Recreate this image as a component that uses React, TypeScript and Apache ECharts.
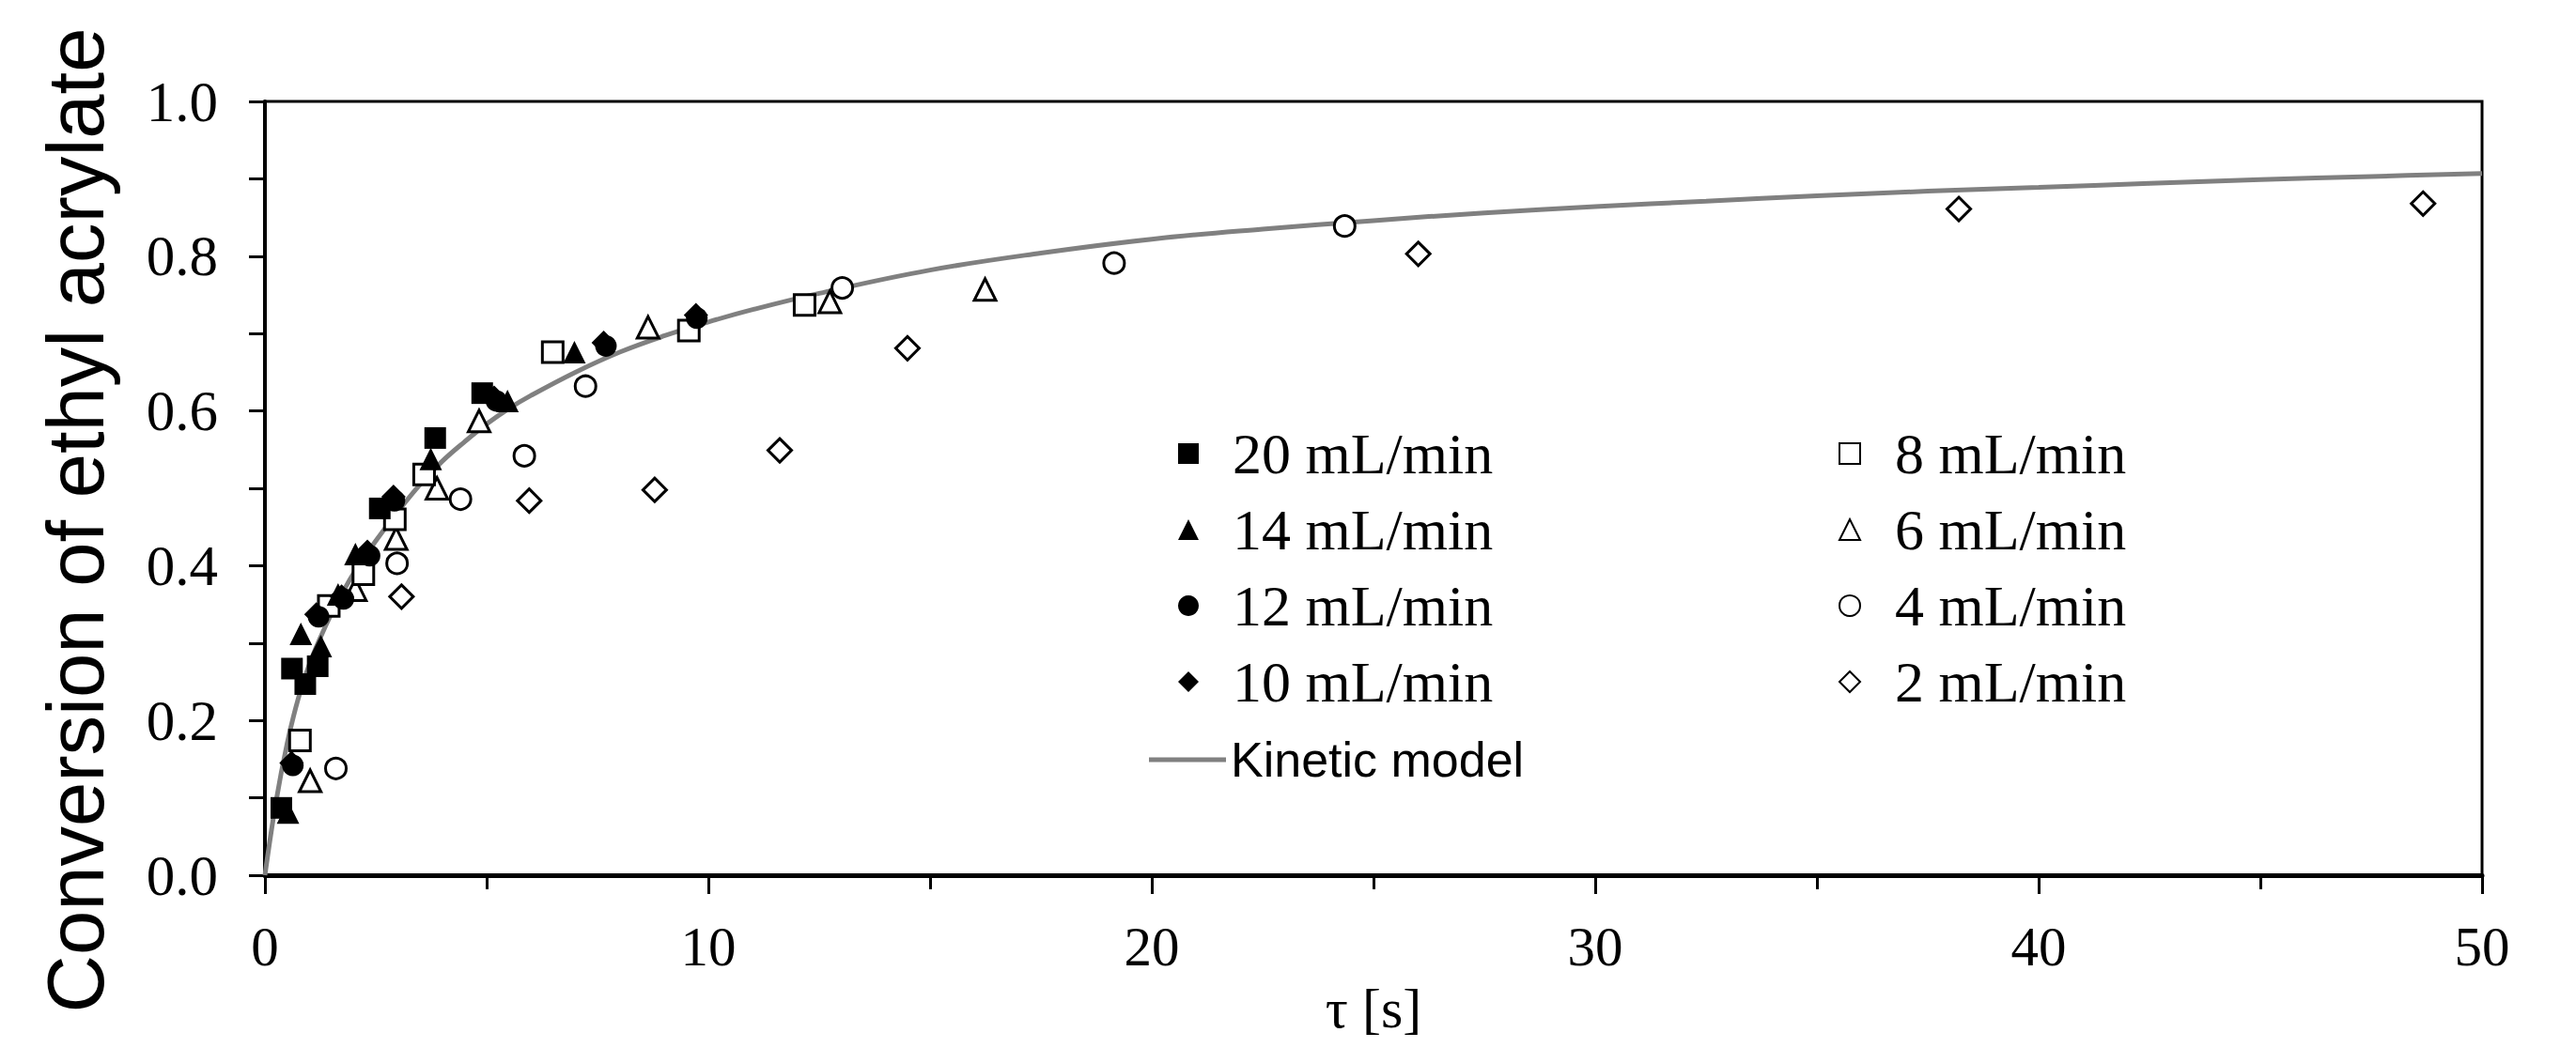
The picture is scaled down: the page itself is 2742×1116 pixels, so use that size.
import React, { useEffect, useRef } from "react";
import * as echarts from "echarts";

const W = 2742;
const H = 1116;

// residence time τ [s] and conversion for each flow rate
const tau20 = [0.37, 0.61, 0.91, 1.19, 2.59, 3.84, 4.9];
const conv20 = [0.087, 0.267, 0.247, 0.27, 0.474, 0.565, 0.623];

const tau14 = [0.52, 0.81, 1.26, 1.65, 2.04, 3.74, 5.47, 6.98];
const conv14 = [0.081, 0.312, 0.296, 0.363, 0.415, 0.538, 0.613, 0.676];

const tau12 = [0.63, 1.21, 1.77, 2.36, 2.92, 5.22, 7.69, 9.74];
const conv12 = [0.142, 0.334, 0.357, 0.413, 0.484, 0.613, 0.684, 0.72];

const tau10 = [0.6, 1.16, 1.73, 2.31, 2.9, 5.17, 7.64, 9.72];
const conv10 = [0.145, 0.337, 0.36, 0.418, 0.489, 0.617, 0.688, 0.724];

const tau8 = [0.79, 1.44, 2.22, 2.93, 3.59, 6.49, 9.56, 12.17];
const conv8 = [0.174, 0.348, 0.389, 0.46, 0.518, 0.676, 0.704, 0.737];

const tau6 = [1.02, 2.04, 2.96, 3.88, 4.83, 8.64, 12.74, 16.24];
const conv6 = [0.122, 0.369, 0.435, 0.5, 0.587, 0.708, 0.741, 0.757];

const tau4 = [1.6, 2.98, 4.41, 5.85, 7.23, 13.02, 19.15, 24.35];
const conv4 = [0.138, 0.403, 0.486, 0.542, 0.632, 0.759, 0.791, 0.839];

const tau2 = [3.08, 5.96, 8.79, 11.61, 14.49, 26.01, 38.2, 48.67];
const conv2 = [0.36, 0.484, 0.498, 0.549, 0.681, 0.803, 0.861, 0.868];

// kinetic model curve
const modelTau = [0, 0.25, 0.5, 0.75, 1, 1.25, 1.5, 1.75, 2, 2.5, 3, 3.5, 4, 4.5, 5, 5.5, 6, 7, 8, 9, 10, 11, 12.5, 15, 17.5, 20, 22.5, 25, 27.5, 30, 32.5, 35, 37.5, 40, 42.5, 45, 47.5, 50];
const modelConv = [0, 0.095, 0.17, 0.228, 0.272, 0.307, 0.338, 0.365, 0.39, 0.432, 0.47, 0.505, 0.535, 0.56, 0.583, 0.603, 0.62, 0.65, 0.676, 0.697, 0.715, 0.731, 0.752, 0.782, 0.804, 0.822, 0.835, 0.846, 0.856, 0.864, 0.871, 0.878, 0.884, 0.889, 0.894, 0.899, 0.903, 0.907];

const leftLegend = ["20 mL/min", "14 mL/min", "12 mL/min", "10 mL/min"];
const rightLegend = ["8 mL/min", "6 mL/min", "4 mL/min", "2 mL/min"];
const modelName = "Kinetic model";
const xTitle = "τ [s]";
const yTitle = "Conversion of ethyl acrylate";

const zip = (a: number[], b: number[]) => a.map((v, i) => [v, b[i]]);

export default function App() {
  const ref = useRef<HTMLDivElement>(null);
  useEffect(() => {
    document.body.style.margin = "0";
    const chart = echarts.init(ref.current!, null, { renderer: "svg" });
    const serif = "Liberation Serif";
    const sans = "Liberation Sans";

    const filled = (name: string, symbol: string, size: number, t: number[], c: number[], z: number) => ({
      type: "scatter",
      name,
      symbol,
      symbolSize: size,
      data: zip(t, c),
      z,
      itemStyle: { color: "#000", borderColor: "#000", borderWidth: 0, opacity: 1 },
    });
    const open = (name: string, symbol: string, size: number, t: number[], c: number[], z: number) => ({
      type: "scatter",
      name,
      symbol,
      symbolSize: size,
      data: zip(t, c),
      z,
      itemStyle: {
        color: "#fff",
        borderColor: "#000",
        borderWidth: 3,
        borderJoin: "miter",
        borderMiterLimit: 10,
        opacity: 1,
      },
    });

    const legendText = (padLeft: number) => ({
      fontFamily: serif,
      fontSize: 62,
      color: "#000",
      lineHeight: 62,
      padding: [0, 0, 0, padLeft],
    });

    chart.setOption({
      animation: false,
      backgroundColor: "#fff",
      grid: {
        left: 282,
        right: 100,
        top: 108,
        bottom: 184,
        show: true,
        borderColor: "#000",
        borderWidth: 3,
        backgroundColor: "transparent",
      },
      legend: [
        {
          data: leftLegend,
          orient: "vertical",
          left: 1249,
          top: 447,
          itemWidth: 22,
          itemHeight: 22,
          itemGap: 19,
          selectedMode: false,
          textStyle: legendText(31),
        },
        {
          data: rightLegend,
          orient: "vertical",
          left: 1952,
          top: 447,
          itemWidth: 22,
          itemHeight: 22,
          itemGap: 19,
          selectedMode: false,
          textStyle: legendText(32),
        },
        {
          data: [{ name: modelName, icon: "rect" }],
          orient: "vertical",
          left: 1218,
          top: 778,
          itemWidth: 82,
          itemHeight: 5,
          symbolKeepAspect: false,
          selectedMode: false,
          itemStyle: { color: "#808080", borderWidth: 0 },
          textStyle: { fontFamily: sans, fontSize: 52, color: "#000", lineHeight: 52 },
        },
      ],
      xAxis: {
        type: "value",
        min: 0,
        max: 50,
        interval: 10,
        name: xTitle,
        nameLocation: "middle",
        nameGap: 112,
        nameTextStyle: { fontFamily: serif, fontSize: 60, color: "#000" },
        axisLine: { show: true, lineStyle: { color: "#000", width: 5 } },
        axisTick: { show: true, length: 20, lineStyle: { color: "#000", width: 3 } },
        minorTick: { show: true, splitNumber: 2, length: 15, lineStyle: { color: "#000", width: 3 } },
        splitLine: { show: false },
        minorSplitLine: { show: false },
        axisLabel: { fontFamily: serif, fontSize: 59, color: "#000", margin: 46 },
      },
      yAxis: {
        type: "value",
        min: 0,
        max: 1,
        interval: 0.2,
        axisLine: { show: true, lineStyle: { color: "#000", width: 4 } },
        axisTick: { show: true, length: 17, lineStyle: { color: "#000", width: 3 } },
        minorTick: { show: true, splitNumber: 2, length: 17, lineStyle: { color: "#000", width: 3 } },
        splitLine: { show: false },
        minorSplitLine: { show: false },
        axisLabel: {
          fontFamily: serif,
          fontSize: 61,
          color: "#000",
          margin: 50,
          formatter: (v: number) => v.toFixed(1),
        },
      },
      graphic: [
        {
          type: "text",
          x: 80,
          y: 554,
          rotation: Math.PI / 2,
          style: {
            text: yTitle,
            fontFamily: sans,
            fontSize: 85,
            fill: "#000",
            align: "center",
            verticalAlign: "middle",
            textAlign: "center",
            textVerticalAlign: "middle",
          },
        },
      ],
      series: [
        {
          type: "line",
          name: modelName,
          data: zip(modelTau, modelConv),
          showSymbol: false,
          symbol: "none",
          smooth: 0.4,
          z: 1,
          lineStyle: { color: "#808080", width: 5 },
          itemStyle: { color: "#808080" },
        },
        open("2 mL/min", "diamond", 25, tau2, conv2, 2),
        open("4 mL/min", "circle", 22, tau4, conv4, 3),
        open("6 mL/min", "triangle", 23, tau6, conv6, 4),
        open("8 mL/min", "rect", 22, tau8, conv8, 5),
        filled("10 mL/min", "diamond", 26, tau10, conv10, 6),
        filled("12 mL/min", "circle", 23, tau12, conv12, 7),
        filled("14 mL/min", "triangle", 24, tau14, conv14, 8),
        filled("20 mL/min", "rect", 23, tau20, conv20, 9),
      ],
    });
    return () => chart.dispose();
  }, []);
  return <div ref={ref} style={{ width: W, height: H }} />;
}
